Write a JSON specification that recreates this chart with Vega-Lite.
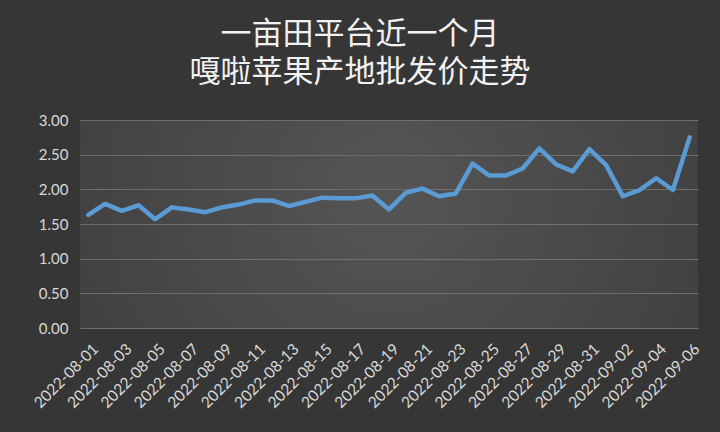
{
  "$schema": "https://vega.github.io/schema/vega-lite/v6.json",
  "description": "Gala apple wholesale price, Yimutian, Aug-Sep 2022",
  "autosize": {"type": "none"},
  "padding": {"left": 80, "top": 120, "right": 22, "bottom": 104},
  "width": 618,
  "height": 208,
  "background": "#363636",
  "title": {
    "text": "一亩田平台近一个月",
    "subtitle": "嘎啦苹果产地批发价走势",
    "font": "Noto Sans CJK SC",
    "subtitleFont": "Noto Sans CJK SC",
    "fontSize": 31,
    "subtitleFontSize": 31,
    "fontWeight": "normal",
    "color": "#f2f2f2",
    "subtitleColor": "#f2f2f2",
    "subtitlePadding": 7,
    "anchor": "middle",
    "dx": -29,
    "offset": 24
  },
  "data": {
    "values": [
      {"date": "2022-08-01", "price": 1.63},
      {"date": "2022-08-02", "price": 1.79},
      {"date": "2022-08-03", "price": 1.69},
      {"date": "2022-08-04", "price": 1.77},
      {"date": "2022-08-05", "price": 1.57},
      {"date": "2022-08-06", "price": 1.74},
      {"date": "2022-08-07", "price": 1.71},
      {"date": "2022-08-08", "price": 1.67},
      {"date": "2022-08-09", "price": 1.74},
      {"date": "2022-08-10", "price": 1.78},
      {"date": "2022-08-11", "price": 1.84},
      {"date": "2022-08-12", "price": 1.84},
      {"date": "2022-08-13", "price": 1.76},
      {"date": "2022-08-14", "price": 1.82},
      {"date": "2022-08-15", "price": 1.88},
      {"date": "2022-08-16", "price": 1.87},
      {"date": "2022-08-17", "price": 1.87},
      {"date": "2022-08-18", "price": 1.91},
      {"date": "2022-08-19", "price": 1.71},
      {"date": "2022-08-20", "price": 1.95},
      {"date": "2022-08-21", "price": 2.01},
      {"date": "2022-08-22", "price": 1.9},
      {"date": "2022-08-23", "price": 1.94},
      {"date": "2022-08-24", "price": 2.37},
      {"date": "2022-08-25", "price": 2.2},
      {"date": "2022-08-26", "price": 2.2},
      {"date": "2022-08-27", "price": 2.3},
      {"date": "2022-08-28", "price": 2.59},
      {"date": "2022-08-29", "price": 2.36},
      {"date": "2022-08-30", "price": 2.26},
      {"date": "2022-08-31", "price": 2.58},
      {"date": "2022-09-01", "price": 2.35},
      {"date": "2022-09-02", "price": 1.9},
      {"date": "2022-09-03", "price": 1.99},
      {"date": "2022-09-04", "price": 2.16},
      {"date": "2022-09-05", "price": 1.99},
      {"date": "2022-09-06", "price": 2.75}
    ]
  },
  "mark": {
    "type": "line",
    "color": "#5b9bd5",
    "strokeWidth": 4.5,
    "strokeJoin": "round",
    "strokeCap": "round"
  },
  "encoding": {
    "x": {
      "field": "date",
      "type": "ordinal",
      "sort": null,
      "scale": {"type": "point", "padding": 0.5},
      "axis": {
        "title": null,
        "values": ["2022-08-01", "2022-08-03", "2022-08-05", "2022-08-07", "2022-08-09", "2022-08-11", "2022-08-13", "2022-08-15", "2022-08-17", "2022-08-19", "2022-08-21", "2022-08-23", "2022-08-25", "2022-08-27", "2022-08-29", "2022-08-31", "2022-09-02", "2022-09-04", "2022-09-06"],
        "labelAngle": -45,
        "labelAlign": "right",
        "labelBaseline": "middle",
        "labelPadding": 18,
        "labelOffset": 7,
        "labelFontSize": 15.5,
        "labelFont": "Lato",
        "labelColor": "#d9d9d9",
        "labelOverlap": false,
        "domain": false,
        "ticks": false,
        "grid": false
      }
    },
    "y": {
      "field": "price",
      "type": "quantitative",
      "scale": {"domain": [0, 3], "nice": false},
      "axis": {
        "title": null,
        "values": [0, 0.5, 1, 1.5, 2, 2.5, 3],
        "format": ".2f",
        "labelFontSize": 15,
        "labelFont": "Lato",
        "labelColor": "#d9d9d9",
        "labelPadding": 12,
        "domain": false,
        "ticks": false,
        "grid": true,
        "gridColor": "#6e6e6e",
        "gridWidth": 1
      }
    }
  },
  "config": {
    "view": {
      "stroke": null,
      "fill": {
        "gradient": "radial",
        "x1": 0.5, "y1": 0.45, "r1": 0,
        "x2": 0.5, "y2": 0.45, "r2": 0.75,
        "stops": [
          {"offset": 0, "color": "#555555"},
          {"offset": 1, "color": "#393939"}
        ]
      }
    }
  }
}
